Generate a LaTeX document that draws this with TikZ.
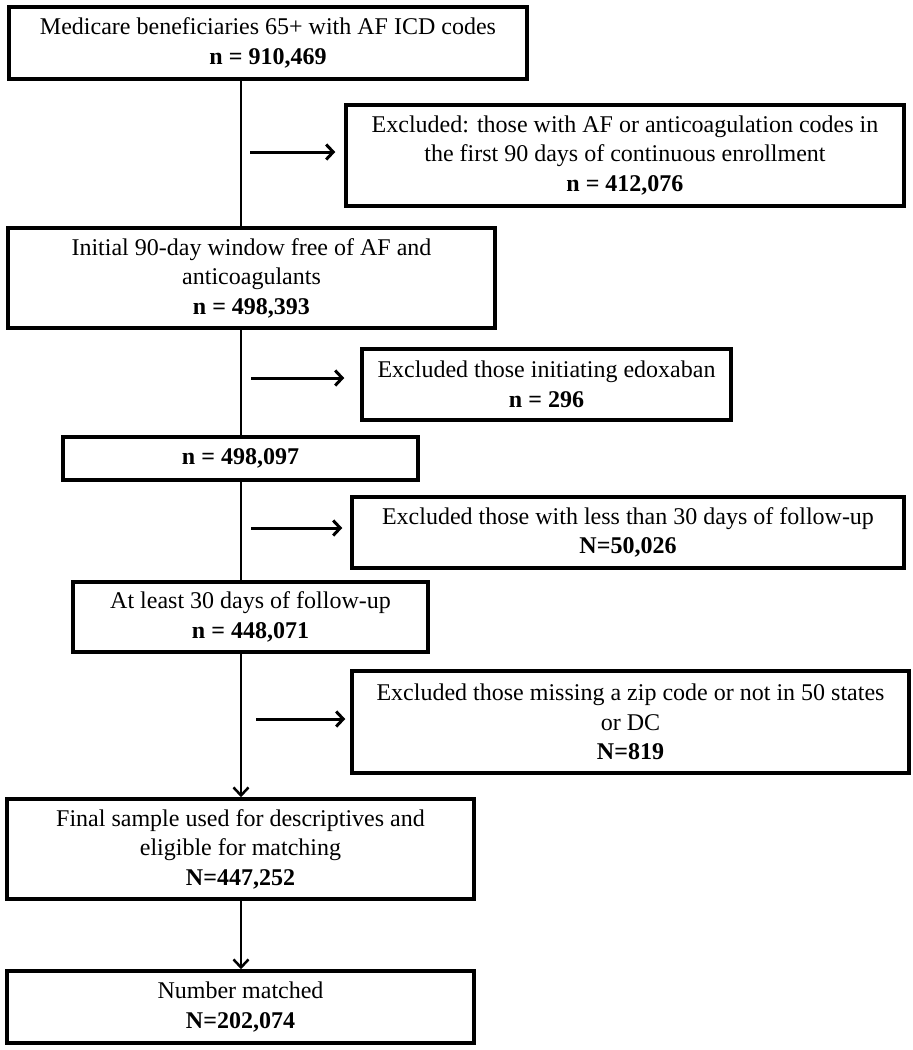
\documentclass[tikz,border=0pt]{standalone}
\usepackage{fontspec}
\setmainfont{Liberation Serif}
\usetikzlibrary{arrows.meta}
\begin{document}
\begin{tikzpicture}[x=1pt,y=-1pt,
  box/.style={draw, line width=3.5pt, align=center, inner sep=0pt,
    font=\fontsize{24}{29.5}\selectfont},
  conn/.style={line width=2.5pt},
  varr/.style={line width=2.5pt, -{Straight Barb[length=8pt,width=15pt]}},
  harr/.style={line width=3pt, -{Straight Barb[length=7pt,width=15pt]}}]
\useasboundingbox (0,0) rectangle (913,1050);

\node[box, minimum width=518pt, minimum height=72pt] (b1) at (268,43)
  {Medicare beneficiaries 65+ with AF ICD codes\\\textbf{n = 910,469}};
\node[box, minimum width=558pt, minimum height=101pt] (e1) at (625,155.5)
  {Excluded: those with AF or anticoagulation codes in\\the first 90 days of continuous enrollment\\\textbf{n = 412,076}};
\node[box, minimum width=487pt, minimum height=100pt] (b2) at (251.5,278)
  {Initial 90-day window free of AF and\\anticoagulants\\\textbf{n = 498,393}};
\node[box, minimum width=369pt, minimum height=71pt] (e2) at (546.5,384.5)
  {Excluded those initiating edoxaban\\\textbf{n = 296}};
\node[box, minimum width=355pt, minimum height=43pt] (b3) at (240.5,458.5)
  {\textbf{n = 498,097}};
\node[box, minimum width=552pt, minimum height=71pt] (e3) at (628,532.5)
  {Excluded those with less than 30 days of follow-up\\\textbf{N=50,026}};
\node[box, minimum width=355pt, minimum height=70pt] (b4) at (250.5,617)
  {At least 30 days of follow-up\\\textbf{n = 448,071}};
\node[box, minimum width=557pt, minimum height=102pt] (e4) at (630.5,722)
  {Excluded those missing a zip code or not in 50 states\\or DC\\\textbf{N=819}};
\node[box, minimum width=467pt, minimum height=100pt] (b5) at (240.5,849)
  {Final sample used for descriptives and\\eligible for matching\\\textbf{N=447,252}};
\node[box, minimum width=467pt, minimum height=72pt] (b6) at (240.5,1007)
  {Number matched\\\textbf{N=202,074}};

\coordinate (spine) at (241,0);
\draw[conn] (b1.south -| spine) -- (b2.north -| spine);
\draw[conn] (b2.south -| spine) -- (b3.north -| spine);
\draw[conn] (b3.south -| spine) -- (b4.north -| spine);
\draw[varr] (b4.south -| spine) -- (b5.north -| spine);
\draw[varr] (b5.south -| spine) -- (b6.north -| spine);

\coordinate (a1) at (250,152);
\coordinate (a2) at (251,378);
\coordinate (a3) at (251,528);
\coordinate (a4) at (256,719);
\draw[harr, shorten >=9pt] (a1) -- (e1.west |- a1);
\draw[harr, shorten >=16pt] (a2) -- (e2.west |- a2);
\draw[harr, shorten >=8pt] (a3) -- (e3.west |- a3);
\draw[harr, shorten >=5pt] (a4) -- (e4.west |- a4);
\end{tikzpicture}
\end{document}
